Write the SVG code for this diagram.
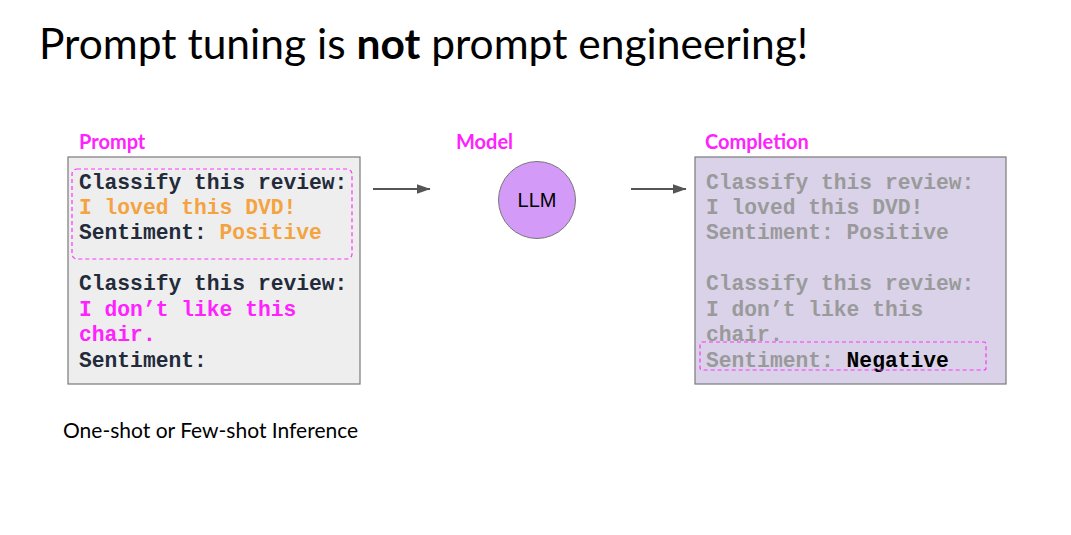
<svg xmlns="http://www.w3.org/2000/svg" width="1071" height="535" viewBox="0 0 1071 535">
  <style>
    .title { font-family: Lato, "Liberation Sans", sans-serif; font-size: 42.5px; fill: #000; }
    .label { font-family: Lato, "Liberation Sans", sans-serif; font-size: 20px; font-weight: bold; fill: #ff22ff; }
    .caption { font-family: Lato, "Liberation Sans", sans-serif; font-size: 21px; fill: #000; }
    .mono { font-family: "Liberation Mono", "Courier New", monospace; font-size: 21.3px; font-weight: bold; }
    .dark { fill: #232b3b; }
    .orange { fill: #f4a340; }
    .pink { fill: #ff22ff; }
    .gray { fill: #9a9a9a; }
    .black { fill: #000; }
    .box { stroke: #7a7a7a; stroke-width: 1.2; }
    .dash { fill: none; stroke: #ff33ff; stroke-width: 1.2; stroke-dasharray: 4 3; }
    .conn { stroke: #555; stroke-width: 2; fill: none; }
  </style>
  <defs>
    <marker id="arrow" viewBox="0 0 14 10" refX="13.5" refY="5" markerWidth="7" markerHeight="5" orient="auto" markerUnits="strokeWidth">
      <path d="M0,0 L14,5 L0,10 z" fill="#555"/>
    </marker>
  </defs>

  <rect width="1071" height="535" fill="#fff"/>

  <text class="title" x="39" y="59">Prompt tuning is <tspan font-weight="bold">not</tspan> prompt engineering!</text>

  <!-- Input prompt -->
  <g id="prompt">
    <text class="label" x="79" y="149">Prompt</text>
    <rect class="box" x="68" y="157" width="292" height="227" fill="#eeeeee"/>
    <rect class="dash" x="72" y="169" width="280" height="90" rx="5"/>
    <text class="mono" x="79">
      <tspan class="dark" x="79" y="189">Classify this review:</tspan>
      <tspan class="orange" x="79" y="214">I loved this DVD!</tspan>
      <tspan x="79" y="239"><tspan class="dark">Sentiment: </tspan><tspan class="orange">Positive</tspan></tspan>
      <tspan class="dark" x="79" y="290">Classify this review:</tspan>
      <tspan class="pink" x="79" y="316">I don’t like this</tspan>
      <tspan class="pink" x="79" y="341">chair.</tspan>
      <tspan class="dark" x="79" y="367">Sentiment:</tspan>
    </text>
    <text class="caption" x="63" y="438">One-shot or Few-shot Inference</text>
  </g>

  <!-- Model -->
  <g id="model">
    <text class="label" x="456" y="149">Model</text>
    <circle cx="537" cy="200" r="38.5" fill="#d39bf7" stroke="#777" stroke-width="1"/>
    <text x="537" y="207" text-anchor="middle" font-family="'Liberation Sans', Arial, sans-serif" font-size="20" fill="#000">LLM</text>
  </g>

  <!-- Completion output -->
  <g id="completion">
    <text class="label" x="705" y="149">Completion</text>
    <rect class="box" x="695" y="157" width="311" height="227" fill="#d9d2e9"/>
    <text class="mono" x="706">
      <tspan class="gray" x="706" y="189">Classify this review:</tspan>
      <tspan class="gray" x="706" y="214">I loved this DVD!</tspan>
      <tspan class="gray" x="706" y="239">Sentiment: Positive</tspan>
      <tspan class="gray" x="706" y="290">Classify this review:</tspan>
      <tspan class="gray" x="706" y="316">I don’t like this</tspan>
      <tspan class="gray" x="706" y="341">chair.</tspan>
      <tspan x="706" y="367"><tspan class="gray">Sentiment: </tspan><tspan class="black">Negative</tspan></tspan>
    </text>
    <rect class="dash" x="700" y="342" width="286" height="28" rx="2"/>
  </g>

  <g id="connectors">
    <line class="conn" x1="373" y1="189" x2="430" y2="189" marker-end="url(#arrow)"/>
    <line class="conn" x1="631" y1="189" x2="686" y2="189" marker-end="url(#arrow)"/>
  </g>
</svg>
